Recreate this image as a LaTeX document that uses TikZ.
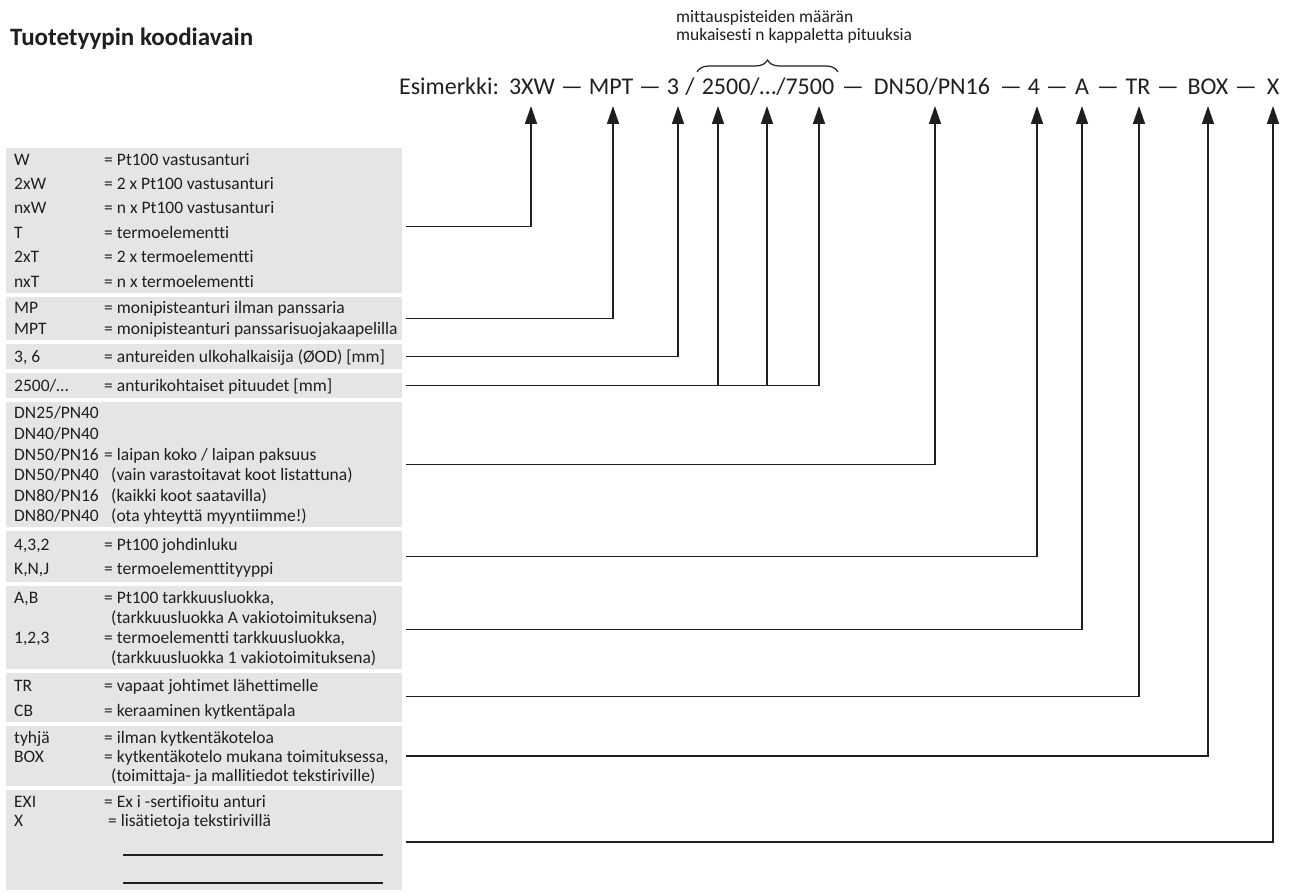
\documentclass[tikz,border=0pt]{standalone}
\usepackage{fontspec}
\setmainfont{Carlito}[Ligatures={NoCommon}]
\usetikzlibrary{arrows.meta,decorations.pathreplacing,calc}
\definecolor{panelgray}{HTML}{E5E5E6}
\definecolor{ink}{HTML}{1F1F1F}
\begin{document}
\begin{tikzpicture}[x=1pt,y=-1pt,
  panel/.style={fill=panelgray, draw=none, inner sep=0, anchor=north west, minimum width=396pt},
  code/.style={anchor=base west, inner sep=0, text=ink, font=\fontsize{17.5}{20}\selectfont},
  tok/.style={anchor=base, inner sep=0, text=ink, font=\fontsize{24}{29}\selectfont},
  conn/.style={line width=1.5pt, draw=ink},
  arr/.style={conn, -{Triangle[length=18pt,width=12pt]}},
]
\useasboundingbox (0,0) rectangle (1294,893);
\fill[white] (0,0) rectangle (1294,893);

% title and annotation
\node[anchor=base west, inner sep=0, text=ink, font=\fontsize{25}{30}\selectfont\bfseries] (title) at (10,46) {Tuotetyypin koodiavain};
\node[code] (ann1) at (676,23) {mittauspisteiden määrän};
\node[code] (ann2) at (676,41) {mukaisesti n kappaletta pituuksia};

% example tokens
\node[tok] (tes) at (449,95) {Esimerkki:};
\node[tok] (t1) at (532,95) {3XW};
\node[tok] (d1) at (572,95) {—};
\node[tok] (t2) at (611,95) {MPT};
\node[tok] (d2) at (650,95) {—};
\node[tok] (t3) at (673,95) {3};
\node[tok] (s3) at (690,95) {/};
\node[tok] (t4) at (768,95) {2500/…/7500};
\node[tok] (d4) at (853,95) {—};
\node[tok] (t5) at (932,95) {DN50/PN16};
\node[tok] (d5) at (1011,95) {—};
\node[tok] (t6) at (1034,95) {4};
\node[tok] (d6) at (1057,95) {—};
\node[tok] (t7) at (1082,95) {A};
\node[tok] (d7) at (1108,95) {—};
\node[tok] (t8) at (1138,95) {TR};
\node[tok] (d8) at (1168,95) {—};
\node[tok] (t9) at (1208,95) {BOX};
\node[tok] (d9) at (1246,95) {—};
\node[tok] (t10) at (1273,95) {X};

\draw[decorate, decoration={brace, amplitude=12pt}, line width=1.2pt, ink] (697,72) -- (838,72);

% panels
\node[panel, minimum height=145pt] (p1) at (6,148) {};
\node[panel, minimum height=43pt] (p2) at (6,297) {};
\node[panel, minimum height=25pt] (p3) at (6,344) {};
\node[panel, minimum height=25pt] (p4) at (6,373) {};
\node[panel, minimum height=125pt] (p5) at (6,402) {};
\node[panel, minimum height=51pt] (p6) at (6,531) {};
\node[panel, minimum height=83pt] (p7) at (6,586) {};
\node[panel, minimum height=49pt] (p8) at (6,673) {};
\node[panel, minimum height=60pt] (p9) at (6,726) {};
\node[panel, minimum height=100pt] (p10) at (6,790) {};

% panel 1
\node[code] (c11) at (14,165.5) {W};     \node[code] (e11) at (104,165.5) {= Pt100 vastusanturi};
\node[code] (c12) at (14,190) {2xW};     \node[code] (e12) at (104,190) {= 2 x Pt100 vastusanturi};
\node[code] (c13) at (14,214) {nxW};     \node[code] (e13) at (104,214) {= n x Pt100 vastusanturi};
\node[code] (c14) at (14,239) {T};       \node[code] (e14) at (104,239) {= termoelementti};
\node[code] (c15) at (14,263) {2xT};     \node[code] (e15) at (104,263) {= 2 x termoelementti};
\node[code] (c16) at (14,287.5) {nxT};   \node[code] (e16) at (104,287.5) {= n x termoelementti};
% panel 2
\node[code] (c21) at (14,314) {MP};      \node[code] (e21) at (104,314) {= monipisteanturi ilman panssaria};
\node[code] (c22) at (14,335) {MPT};     \node[code] (e22) at (104,335) {= monipisteanturi panssarisuojakaapelilla};
% panel 3, 4
\node[code] (c31) at (14,362.5) {3, 6};  \node[code] (e31) at (104,362.5) {= antureiden ulkohalkaisija (ØOD) [mm]};
\node[code] (c41) at (14,391.5) {2500/…};\node[code] (e41) at (104,391.5) {= anturikohtaiset pituudet [mm]};
% panel 5
\node[code] (c51) at (14,419) {DN25/PN40};
\node[code] (c52) at (14,439.5) {DN40/PN40};
\node[code] (c53) at (14,460) {DN50/PN16};  \node[code] (e53) at (104,460) {= laipan koko / laipan paksuus};
\node[code] (c54) at (14,480.5) {DN50/PN40};\node[code] (e54) at (111,480.5) {(vain varastoitavat koot listattuna)};
\node[code] (c55) at (14,501) {DN80/PN16};  \node[code] (e55) at (111,501) {(kaikki koot saatavilla)};
\node[code] (c56) at (14,521.5) {DN80/PN40};\node[code] (e56) at (111,521.5) {(ota yhteyttä myyntiimme!)};
% panel 6
\node[code] (c61) at (14,550) {4,3,2};   \node[code] (e61) at (104,550) {= Pt100 johdinluku};
\node[code] (c62) at (14,574) {K,N,J};   \node[code] (e62) at (104,574) {= termoelementtityyppi};
% panel 7
\node[code] (c71) at (14,603) {A,B};     \node[code] (e71) at (104,603) {= Pt100 tarkkuusluokka,};
                                         \node[code] (e72) at (111,623) {(tarkkuusluokka A vakiotoimituksena)};
\node[code] (c73) at (14,643) {1,2,3};   \node[code] (e73) at (104,643) {= termoelementti tarkkuusluokka,};
                                         \node[code] (e74) at (111,663) {(tarkkuusluokka 1 vakiotoimituksena)};
% panel 8
\node[code] (c81) at (14,691) {TR};      \node[code] (e81) at (104,691) {= vapaat johtimet lähettimelle};
\node[code] (c82) at (14,716) {CB};      \node[code] (e82) at (104,716) {= keraaminen kytkentäpala};
% panel 9
\node[code] (c91) at (14,743) {tyhjä};   \node[code] (e91) at (104,743) {= ilman kytkentäkoteloa};
\node[code] (c92) at (14,762) {BOX};     \node[code] (e92) at (104,762) {= kytkentäkotelo mukana toimituksessa,};
                                         \node[code] (e93) at (111,781) {(toimittaja- ja mallitiedot tekstiriville)};
% panel 10
\node[code] (c101) at (14,807) {EXI};    \node[code] (e101) at (104,807) {= Ex i -sertifioitu anturi};
\node[code] (c102) at (14,826) {X};      \node[code] (e102) at (108,826) {= lisätietoja tekstirivillä};
\draw[line width=1.1pt, ink] (123,855) -- (383,855);
\draw[line width=1.1pt, ink] (123,883) -- (383,883);

% arrow tips
\coordinate (a1) at (531,106);
\coordinate (a2) at (613,106);
\coordinate (a3) at (678,106);
\coordinate (a4) at (718,106);
\coordinate (a5) at (767,106);
\coordinate (a6) at (819,106);
\coordinate (a7) at (935,106);
\coordinate (a8) at (1037,106);
\coordinate (a9) at (1082,106);
\coordinate (a10) at (1139,106);
\coordinate (a11) at (1208,106);
\coordinate (a12) at (1273,106);

% connectors
\draw[arr] ($(p1.east)+(4,6)$) -| (a1);
\draw[arr] ($(p2.east)+(4,0)$) -| (a2);
\draw[arr] ($(p3.east)+(4,0)$) -| (a3);
\draw[arr] ($(p4.east)+(4,0)$) -| (a6);
\draw[arr] (a4 |- p4.east) -- (a4);
\draw[arr] (a5 |- p4.east) -- (a5);
\draw[arr] ($(p5.east)+(4,0)$) -| (a7);
\draw[arr] ($(p6.east)+(4,0)$) -| (a8);
\draw[arr] ($(p7.east)+(4,2)$) -| (a9);
\draw[arr] ($(p8.east)+(4,-1)$) -| (a10);
\draw[arr] ($(p9.east)+(4,0)$) -| (a11);
\draw[arr] ($(p10.east)+(4,2)$) -| (a12);
\end{tikzpicture}
\end{document}
